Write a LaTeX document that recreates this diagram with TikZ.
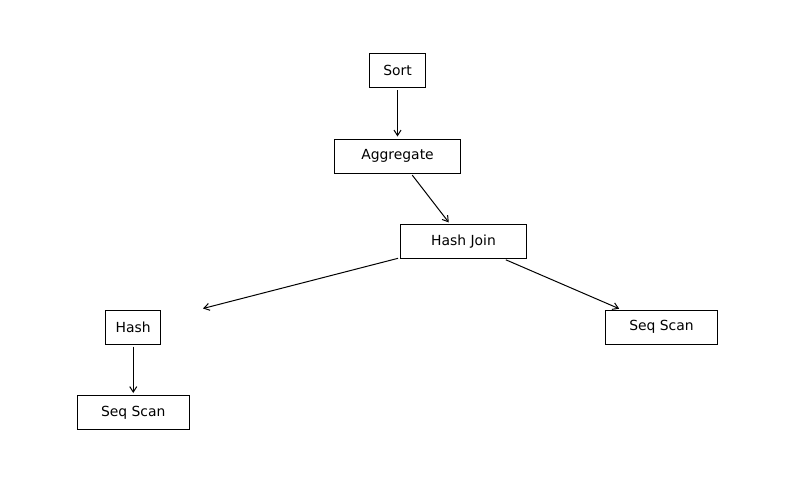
\documentclass[tikz,border=0pt]{standalone}
\usepackage{fontspec}
\setmainfont{DejaVu Sans}
\usetikzlibrary{positioning,arrows.meta}

\tikzset{
    opnode/.style={draw, line width=1pt, inner sep=0pt, minimum height=34pt, font=\fontsize{13.9pt}{16pt}\selectfont},
    flow/.style={-{Straight Barb[length=5.5pt,width=7pt]}, line width=1pt, shorten <=2pt, shorten >=2pt}
}

\begin{document}
\begin{tikzpicture}[x=1pt, y=-1pt]
    \useasboundingbox (0,0) rectangle (794,482);

    % Plan nodes
    \node [opnode, minimum width=56pt] (sort) at (397.5, 70.5) {Sort};
    \node [opnode, minimum width=126pt] (agg) at (397.5, 156) {Aggregate};
    \node [opnode, minimum width=126pt] (hj) at (463.5, 241.5) {Hash Join};
    \node [opnode, minimum width=55pt] (hash) at (133.25, 327) {Hash};
    \node [opnode, minimum width=112pt] (scanl) at (133.25, 412.5) {Seq Scan};
    \node [opnode, minimum width=112pt] (scanr) at (661.5, 327) {Seq Scan};

    % Free end of the left join arrow
    \coordinate (hashin) at (203, 308.5);

    % Edges
    \draw [flow] (sort) -- (agg);
    \draw [flow] (agg) -- (hj);
    \draw [flow, shorten >=0pt] (hj) -- (hashin);
    \draw [flow] (hj) -- (scanr);
    \draw [flow] (hash) -- (scanl);
\end{tikzpicture}
\end{document}
